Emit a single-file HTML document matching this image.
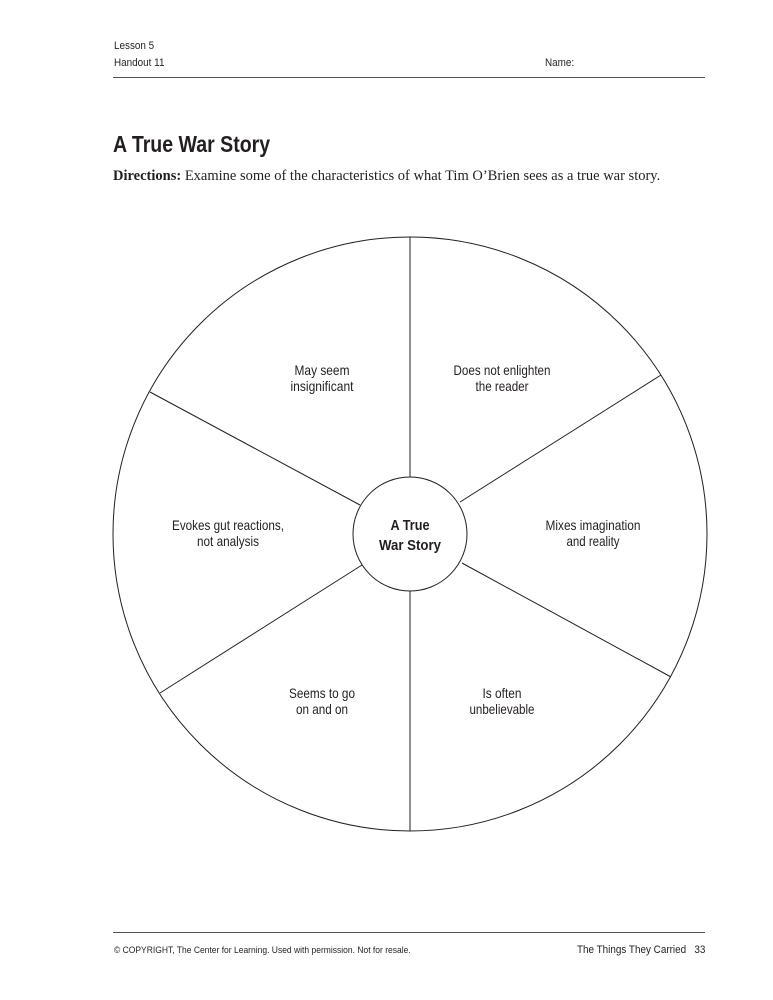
<!DOCTYPE html>
<html><head><style>
body{margin:0;width:773px;height:1000px;background:#fff;position:relative;font-family:"Liberation Sans",sans-serif;color:#231f20;}
.a{position:absolute;white-space:nowrap;}
</style></head><body>
<div class="a" style="left:114px;top:40px;font-size:11px;transform:scaleX(0.9);transform-origin:left;">Lesson 5</div>
<div class="a" style="left:114px;top:57px;font-size:11px;transform:scaleX(0.9);transform-origin:left;">Handout 11</div>
<div class="a" style="left:545px;top:57px;font-size:11px;transform:scaleX(0.9);transform-origin:left;">Name:</div>
<div class="a" style="left:113px;top:77px;width:592px;border-top:1px solid #555;"></div>
<div class="a" style="left:113px;top:131px;font-size:23px;font-weight:bold;transform:scaleX(0.85);transform-origin:left;">A True War Story</div>
<div class="a" style="left:113px;top:168px;font-size:14.5px;font-family:'Liberation Serif',serif;"><b>Directions:</b> Examine some of the characteristics of what Tim O’Brien sees as a true war story.</div>
<svg class="a" style="left:0;top:0" width="773" height="1000">
<g stroke="#231f20" stroke-width="1" fill="none">
<circle cx="410" cy="534" r="297"/>
<circle cx="410" cy="534" r="57"/>
<line x1="410" y1="237" x2="410" y2="477"/>
<line x1="410" y1="591" x2="410" y2="831"/>
<line x1="150" y1="392" x2="360" y2="505"/>
<line x1="661" y1="375" x2="460" y2="502"/>
<line x1="160" y1="693" x2="362" y2="565"/>
<line x1="671" y1="677" x2="462" y2="563"/>
</g>
<g font-size="14" text-anchor="middle" fill="#231f20" lengthAdjust="spacingAndGlyphs">
<text x="322" y="375" textLength="55" lengthAdjust="spacingAndGlyphs">May seem</text><text x="322" y="391" textLength="63" lengthAdjust="spacingAndGlyphs">insignificant</text>
<text x="502" y="375" textLength="97" lengthAdjust="spacingAndGlyphs">Does not enlighten</text><text x="502" y="391" textLength="53" lengthAdjust="spacingAndGlyphs">the reader</text>
<text x="228" y="530" textLength="112" lengthAdjust="spacingAndGlyphs">Evokes gut reactions,</text><text x="228" y="546" textLength="62" lengthAdjust="spacingAndGlyphs">not analysis</text>
<text x="593" y="530" textLength="95" lengthAdjust="spacingAndGlyphs">Mixes imagination</text><text x="593" y="546" textLength="53" lengthAdjust="spacingAndGlyphs">and reality</text>
<text x="322" y="698" textLength="66" lengthAdjust="spacingAndGlyphs">Seems to go</text><text x="322" y="714" textLength="52" lengthAdjust="spacingAndGlyphs">on and on</text>
<text x="502" y="698" textLength="39" lengthAdjust="spacingAndGlyphs">Is often</text><text x="502" y="714" textLength="65" lengthAdjust="spacingAndGlyphs">unbelievable</text>
<text x="410" y="530" font-weight="bold" font-size="15" textLength="39" lengthAdjust="spacingAndGlyphs">A True</text><text x="410" y="550" font-weight="bold" font-size="15" textLength="62" lengthAdjust="spacingAndGlyphs">War Story</text>
</g>
</svg>
<div class="a" style="left:113px;top:932px;width:592px;border-top:1px solid #555;"></div>
<div class="a" style="left:114px;top:945px;font-size:9.5px;transform:scaleX(0.895);transform-origin:left;">© COPYRIGHT, The Center for Learning. Used with permission. Not for resale.</div>
<div class="a" style="left:577px;top:944px;font-size:11px;transform:scaleX(0.9);transform-origin:left;">The Things They Carried&nbsp;&nbsp;&nbsp;33</div>
</body></html>
